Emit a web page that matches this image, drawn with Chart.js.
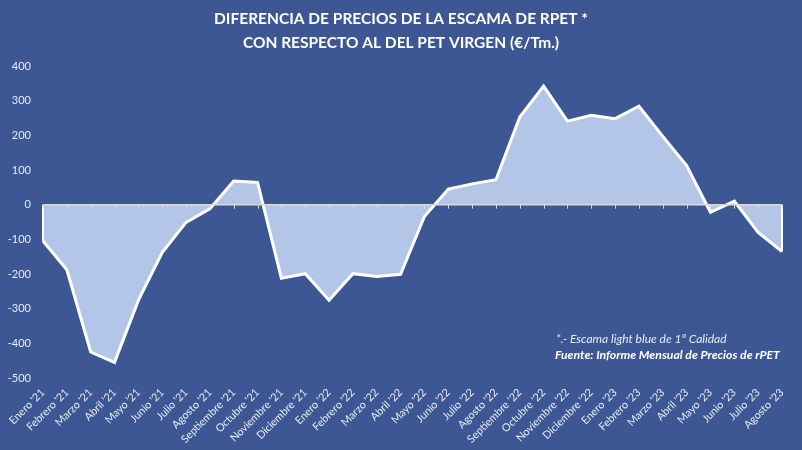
<!DOCTYPE html>
<html><head><meta charset="utf-8">
<script src="https://cdn.jsdelivr.net/npm/chart.js@4"></script>
<style>html,body{margin:0;padding:0;background:#3d5694;}#wrap{width:802px;height:450px;}</style>
</head><body><div id="wrap"><canvas id="c" width="802" height="450"></canvas></div>
<script>
const categories = ["Enero '21","Febrero '21","Marzo '21","Abril '21","Mayo '21","Junio '21","Julio '21","Agosto '21","Septiembre '21","Octubre '21","Noviembre '21","Diciembre '21",
  "Enero '22","Febrero '22","Marzo '22","Abril '22","Mayo '22","Junio '22","Julio '22","Agosto '22","Septiembre '22","Octubre '22","Noviembre '22","Diciembre '22",
  "Enero '23","Febrero '23","Marzo '23","Abril '23","Mayo '23","Junio '23","Julio '23","Agosto '23"];
const diffValues = [-105,-188,-425,-455,-276,-138,-51,-12,68,64,-212,-199,
  -276,-199,-207,-201,-34,45,60,72,253,342,241,258,248,284,197,113,-22,10,-80,-135];
const yMin = -500, yMax = 400, yStep = 100;
const titleLines = ["DIFERENCIA DE PRECIOS DE LA ESCAMA DE RPET *","CON RESPECTO AL DEL PET VIRGEN (€/Tm.)"];
const noteLines = ["*.- Escama light blue de 1º Calidad","Fuente: Informe Mensual de Precios de rPET"];

const FONT = "Lato, 'Open Sans', sans-serif";
const bg = '#3d5694';

const decor = {
  id:'decor',
  beforeDraw(chart){
    const ctx = chart.ctx;
    ctx.save();
    ctx.fillStyle = bg;
    ctx.fillRect(0,0,chart.width,chart.height);
    ctx.restore();
  },
  afterDatasetsDraw(chart){
    const ctx = chart.ctx, x = chart.scales.x, y = chart.scales.y;
    const y0 = y.getPixelForValue(0);
    ctx.save();
    ctx.strokeStyle = '#ffffff';
    ctx.lineWidth = 2;
    const n = diffValues.length;
    [[0,diffValues[0]],[n-1,diffValues[n-1]]].forEach(([i,v])=>{
      const px = x.getPixelForValue(i);
      ctx.beginPath(); ctx.moveTo(px,y0); ctx.lineTo(px,y.getPixelForValue(v)); ctx.stroke();
    });
    ctx.strokeStyle = '#d9d9d9';
    ctx.lineWidth = 1.5;
    ctx.beginPath();
    ctx.moveTo(chart.chartArea.left, y0);
    ctx.lineTo(chart.chartArea.right, y0);
    ctx.stroke();
    ctx.lineWidth = 1;
    for(let i=0;i<categories.length;i++){
      const px = Math.round(x.getPixelForValue(i))+0.5;
      ctx.beginPath(); ctx.moveTo(px,y0); ctx.lineTo(px,y0+4); ctx.stroke();
    }
    ctx.restore();
  },
  afterDraw(chart){
    const ctx = chart.ctx;
    ctx.save();
    ctx.fillStyle = '#ffffff';
    ctx.textAlign = 'center';
    ctx.textBaseline = 'middle';
    ctx.font = "bold 15.5px " + FONT;
    ctx.fillText(titleLines[0], 401, 19);
    ctx.fillText(titleLines[1], 401, 43);
    ctx.textAlign = 'left';
    ctx.font = "italic 12px " + FONT;
    ctx.fillStyle = '#e8ecf5';
    ctx.fillText(noteLines[0], 556, 339);
    ctx.font = "italic bold 12.2px " + FONT;
    ctx.fillStyle = '#ffffff';
    ctx.fillText(noteLines[1], 555, 355);
    ctx.restore();
  }
};

new Chart(document.getElementById('c'), {
  type:'line',
  data:{
    labels: categories,
    datasets:[{
      data: diffValues,
      borderColor:'#ffffff',
      borderWidth:3,
      backgroundColor:'#b4c6e7',
      fill:'origin',
      pointRadius:0,
      tension:0
    }]
  },
  options:{
    responsive:false,
    animation:false,
    devicePixelRatio:1,
    layout:{padding:{left:0,right:20,top:66,bottom:0}},
    plugins:{legend:{display:false},title:{display:false},tooltip:{enabled:false}},
    scales:{
      x:{
        offset:false,
        grid:{display:false,drawTicks:false},
        border:{display:false},
        afterFit(s){ s.height = 72; },
        ticks:{
          color:'#e8ecf5',
          font:{family:FONT,size:10.8},
          maxRotation:45,minRotation:45,
          autoSkip:false,
          padding:8
        }
      },
      y:{
        min:yMin,max:yMax,
        grid:{display:false,drawTicks:false},
        border:{display:false},
        afterFit(s){ s.width = 43; },
        ticks:{
          stepSize:yStep,
          color:'#e8ecf5',
          font:{family:FONT,size:11},
          padding:12
        }
      }
    }
  },
  plugins:[decor]
});
</script>
</body></html>
